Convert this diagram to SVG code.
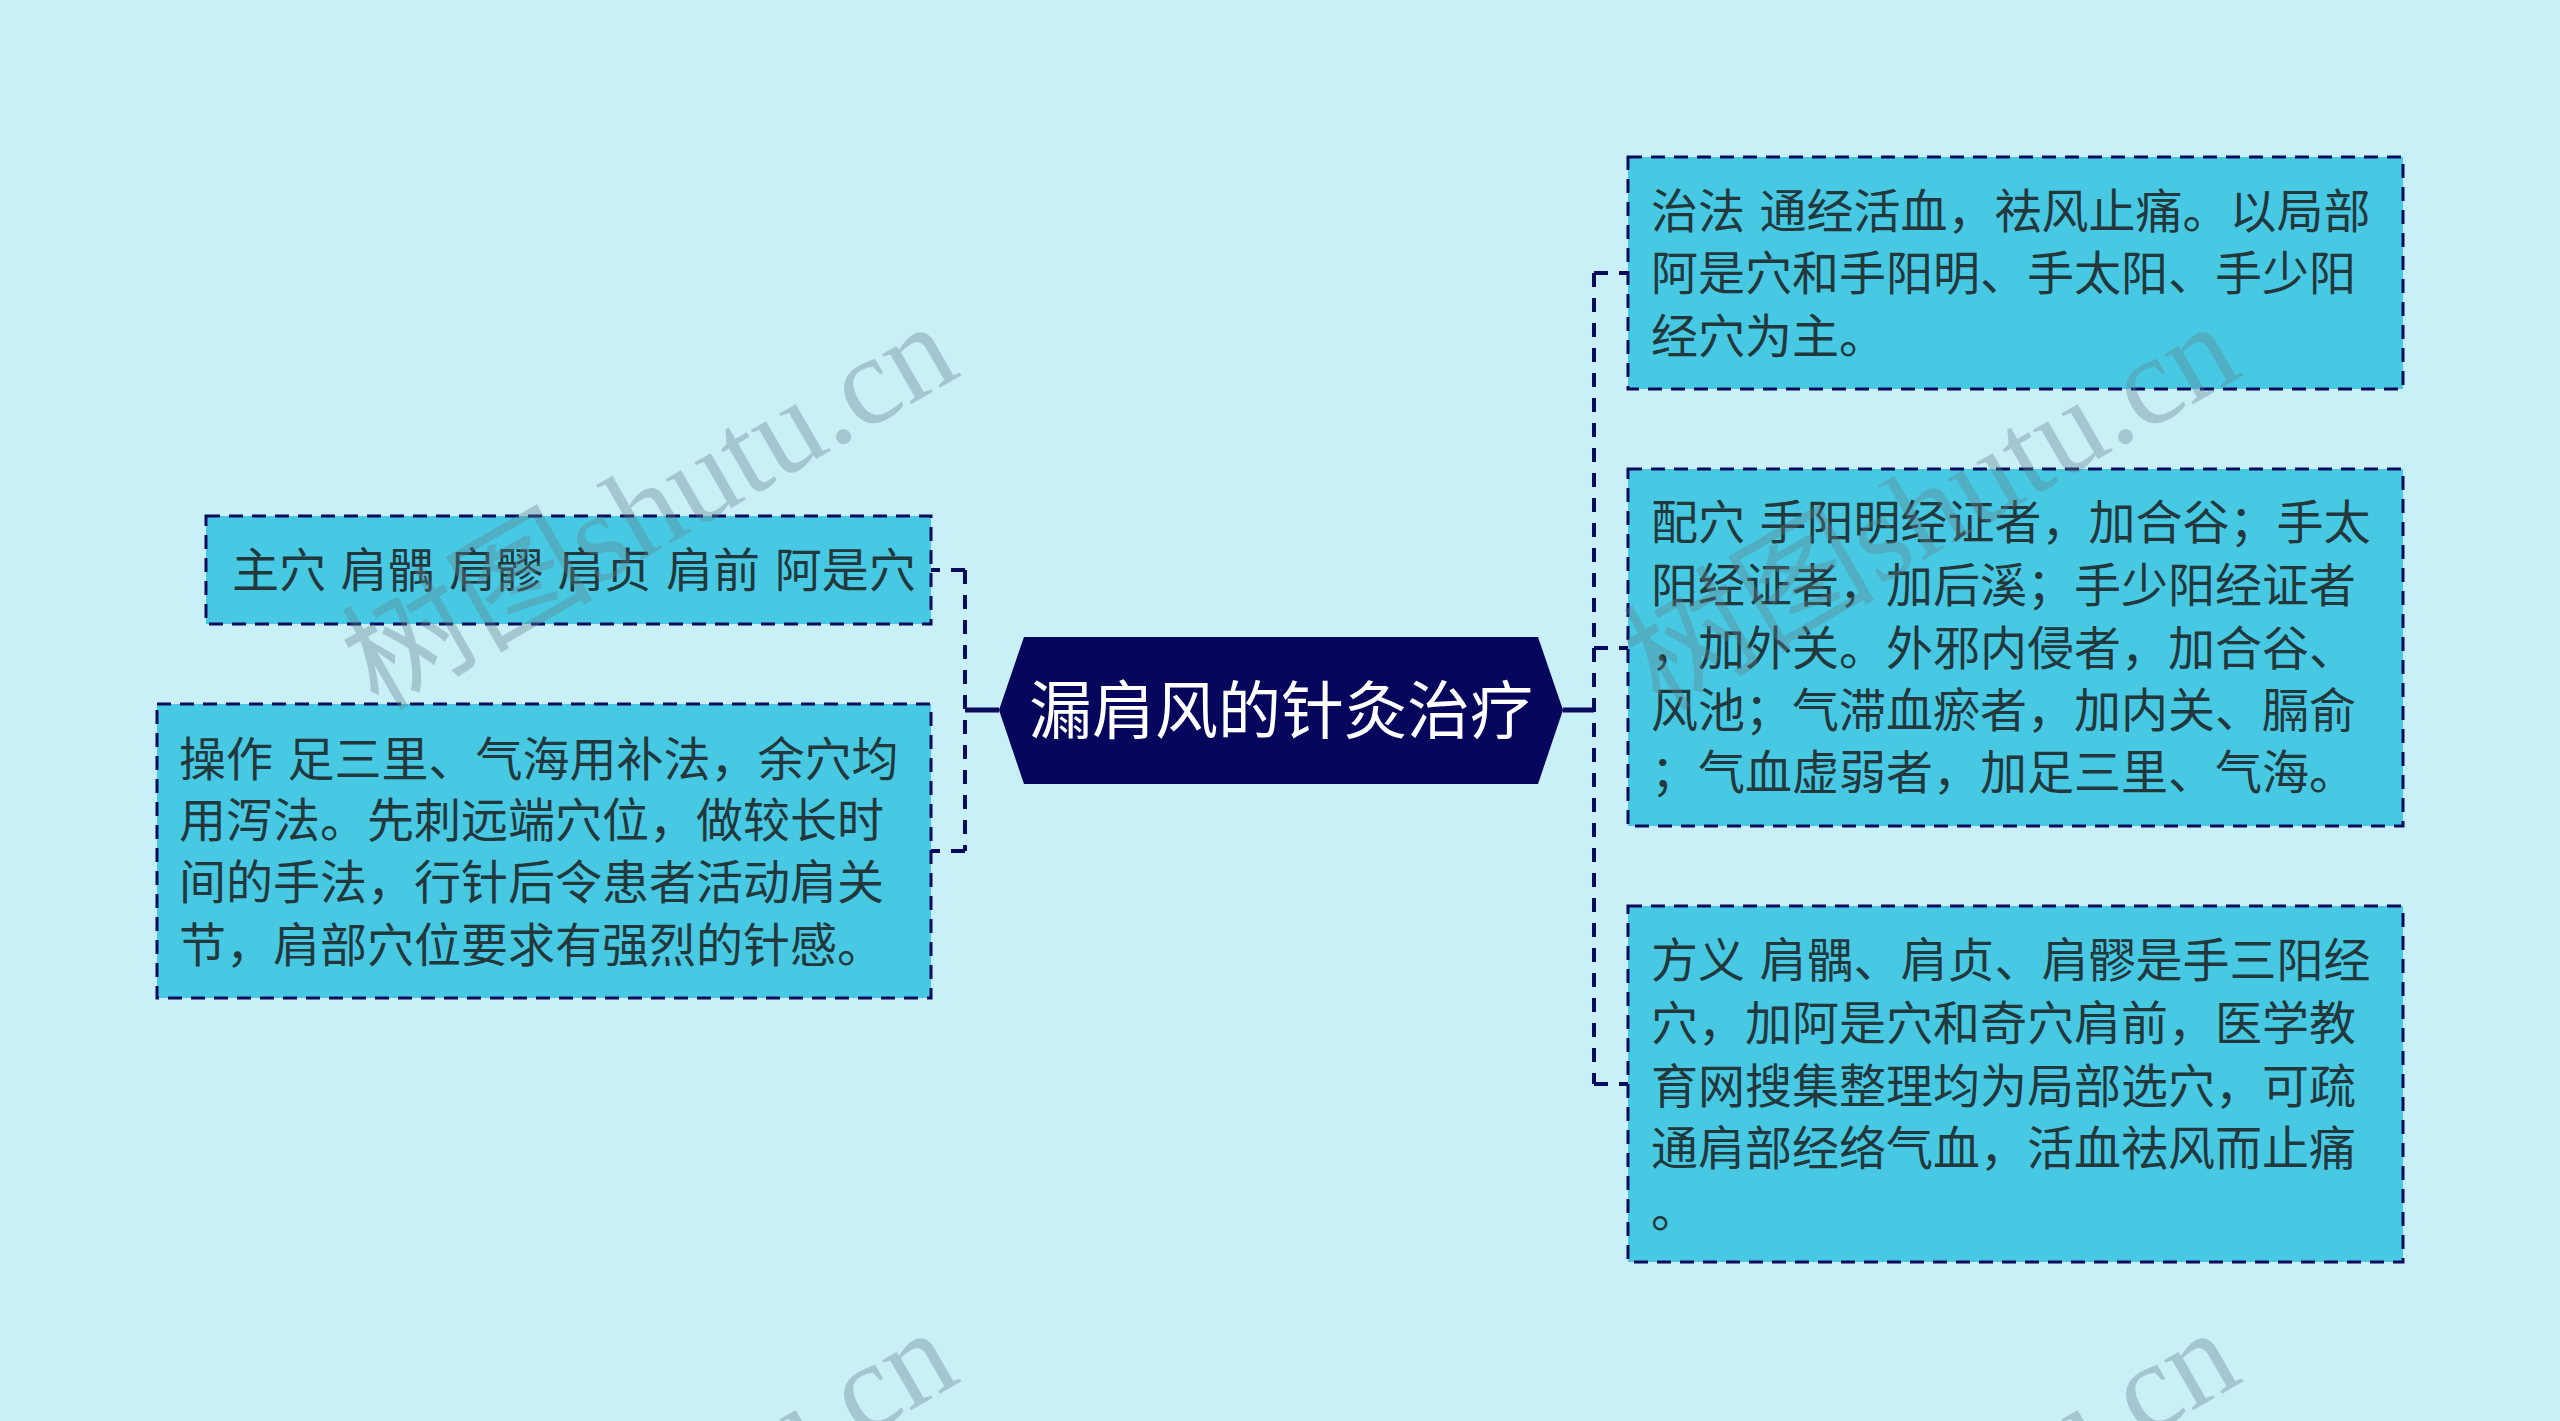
<svg xmlns="http://www.w3.org/2000/svg" width="2560" height="1421" viewBox="0 0 2560 1421">
<style>
.bg{fill:#c9eff7}
.box{fill:#48c9e3;stroke:#0b0b5c;stroke-width:3;stroke-dasharray:14 9}
.t{font-family:"Noto Sans CJK SC","Noto Sans",sans-serif;font-size:47px;fill:#22383c;word-spacing:4px}
.ct{font-family:"Noto Sans CJK SC","Noto Sans",sans-serif;font-size:63px;fill:#ffffff}
.solid{stroke:#0b0b5c;stroke-width:5;fill:none}
.dash{stroke:#0b0b5c;stroke-width:4;fill:none;stroke-dasharray:14 11}
.wm{font-family:"Liberation Serif","Noto Sans CJK SC",serif;font-size:126px;fill:#62828c;opacity:0.36}
</style>
<rect class="bg" x="0" y="0" width="2560" height="1421"/>
<g id="connectors">
<path class="solid" d="M999 710 H965"/>
<path class="dash" d="M965 570 V851"/>
<path class="dash" d="M965 570 H931"/>
<path class="dash" d="M965 851 H931"/>
<path class="solid" d="M1563 710 H1594"/>
<path class="dash" d="M1594 273 V1084"/>
<path class="dash" d="M1594 273 H1628"/>
<path class="dash" d="M1594 648 H1628"/>
<path class="dash" d="M1594 1084 H1628"/>
</g>
<g id="center">
<polygon points="999,710 1024,637 1538,637 1563,710 1538,784 1024,784" fill="#06065c"/>
<text class="ct" x="1281" y="733" text-anchor="middle">漏肩风的针灸治疗</text>
</g>
<g id="node-zhuxue">
<rect class="box" x="206" y="516" width="725" height="108"/>
<text class="t" x="232" y="587">主穴 肩髃 肩髎 肩贞 肩前 阿是穴</text>
</g>
<g id="node-caozuo">
<rect class="box" x="157" y="704" width="774" height="294"/>
<text class="t" x="179" y="776">操作 足三里、气海用补法，余穴均</text>
<text class="t" x="179" y="837">用泻法。先刺远端穴位，做较长时</text>
<text class="t" x="179" y="899">间的手法，行针后令患者活动肩关</text>
<text class="t" x="179" y="962">节，肩部穴位要求有强烈的针感。</text>
</g>
<g id="node-zhifa">
<rect class="box" x="1628" y="157" width="775" height="232"/>
<text class="t" x="1651" y="228">治法 通经活血，祛风止痛。以局部</text>
<text class="t" x="1651" y="290">阿是穴和手阳明、手太阳、手少阳</text>
<text class="t" x="1651" y="353">经穴为主。</text>
</g>
<g id="node-peixue">
<rect class="box" x="1628" y="469" width="775" height="357"/>
<text class="t" x="1651" y="539">配穴 手阳明经证者，加合谷；手太</text>
<text class="t" x="1651" y="602">阳经证者，加后溪；手少阳经证者</text>
<text class="t" x="1651" y="665">，加外关。外邪内侵者，加合谷、</text>
<text class="t" x="1651" y="727">风池；气滞血瘀者，加内关、膈俞</text>
<text class="t" x="1651" y="789">；气血虚弱者，加足三里、气海。</text>
</g>
<g id="node-fangyi">
<rect class="box" x="1628" y="906" width="775" height="356"/>
<text class="t" x="1651" y="977">方义 肩髃、肩贞、肩髎是手三阳经</text>
<text class="t" x="1651" y="1040">穴，加阿是穴和奇穴肩前，医学教</text>
<text class="t" x="1651" y="1103">育网搜集整理均为局部选穴，可疏</text>
<text class="t" x="1651" y="1165">通肩部经络气血，活血祛风而止痛</text>
<text class="t" x="1651" y="1227">。</text>
</g>
<g id="watermarks">
<text class="wm" transform="translate(378,712) rotate(-30)">树图shutu.cn</text>
<text class="wm" transform="translate(1660,712) rotate(-30)">树图shutu.cn</text>
<text class="wm" transform="translate(378,1718) rotate(-30)">树图shutu.cn</text>
<text class="wm" transform="translate(1660,1718) rotate(-30)">树图shutu.cn</text>
</g>
</svg>
